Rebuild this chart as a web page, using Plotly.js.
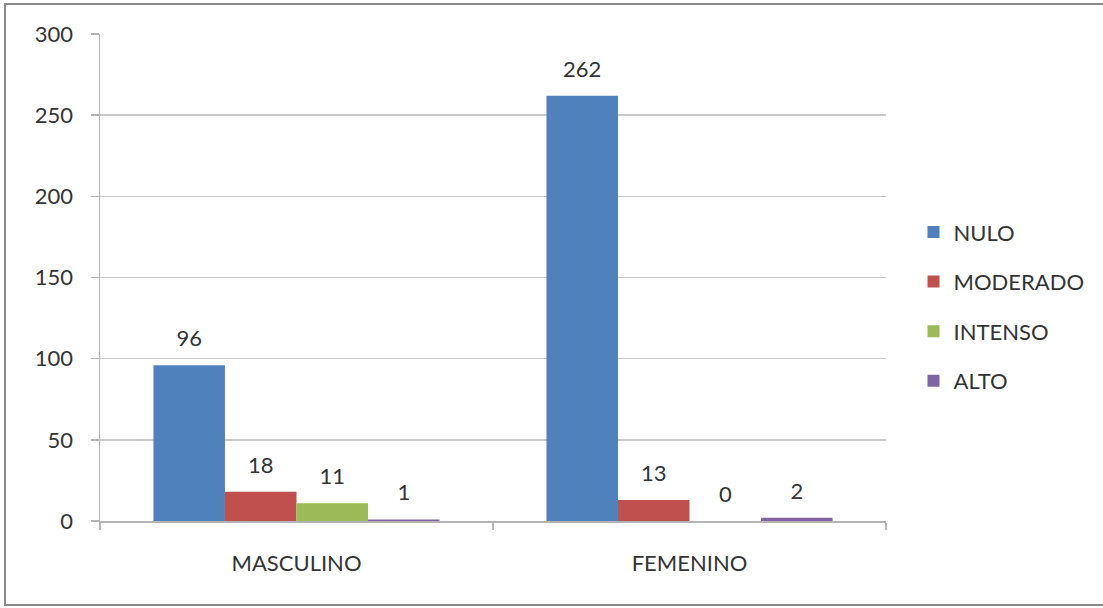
<!DOCTYPE html>
<html>
<head>
<meta charset="utf-8">
<script src="https://cdn.plot.ly/plotly-3.0.1.min.js"></script>
<style>
  html, body { margin: 0; padding: 0; background: #fff; }
  #wrap { position: relative; width: 1103px; height: 608px; overflow: hidden; }
  #frame { position: absolute; left: 4px; top: 3px; width: 1120px; height: 603px; border: 2px solid #8a8a8a; box-sizing: border-box; pointer-events: none; z-index: 5; }
  #chart { position: absolute; left: 0; top: 0; width: 1103px; height: 608px; }
</style>
</head>
<body>
<div id="wrap">
  <div id="chart"></div>
  <div id="frame"></div>
</div>
<script>
const categories = ["MASCULINO", "FEMENINO"];
const seriesNames = ["NULO", "MODERADO", "INTENSO", "ALTO"];
const nulo = [96, 262];
const moderado = [18, 13];
const intenso = [11, 0];
const alto = [1, 2];
const yTicks = [0, 50, 100, 150, 200, 250, 300];

const seriesValues = [nulo, moderado, intenso, alto];
const colors = ["#4f81bd", "#c0504d", "#9bbb59", "#8064a2"];
const fontFam = "Lato, 'Open Sans', sans-serif";
const textColor = "#333333";
const fs = 22;

const traces = [];
seriesValues.forEach((vals, i) => {
  traces.push({
    type: "bar",
    name: seriesNames[i],
    x: categories,
    y: vals,
    marker: { color: colors[i], line: { width: 0 } },
    offsetgroup: "g" + i,
    legendgroup: "g" + i,
    hoverinfo: "x+y+name"
  });
});
seriesValues.forEach((vals, i) => {
  traces.push({
    type: "scatter",
    mode: "markers+text",
    x: categories,
    y: vals,
    text: vals.map(String),
    textposition: "top center",
    textfont: { family: fontFam, size: fs, color: textColor },
    marker: { size: 20, opacity: 0, color: colors[i] },
    offsetgroup: "g" + i,
    showlegend: false,
    hoverinfo: "skip",
    cliponaxis: false
  });
});

const layout = {
  width: 1103,
  height: 608,
  margin: { l: 100, r: 217, t: 34, b: 87 },
  paper_bgcolor: "#ffffff",
  plot_bgcolor: "#ffffff",
  barmode: "group",
  scattermode: "group",
  bargap: 0.272,
  bargroupgap: 0,
  scattergap: 0.272,
  font: { family: fontFam, size: fs, color: textColor },
  xaxis: {
    type: "category",
    showgrid: false,
    showline: true,
    linecolor: "#b4b4b4",
    linewidth: 1.5,
    ticks: "outside",
    tickson: "boundaries",
    ticklen: 7,
    tickcolor: "#b4b4b4",
    tickwidth: 1.5,
    ticklabelstandoff: 22,
    tickfont: { family: fontFam, size: fs, color: textColor },
    fixedrange: true
  },
  yaxis: {
    range: [0, 300],
    tickvals: yTicks,
    ticktext: yTicks.map(String),
    showgrid: true,
    gridcolor: "#c8c8c8",
    gridwidth: 1.5,
    zeroline: false,
    showline: true,
    linecolor: "#b4b4b4",
    linewidth: 1.5,
    ticks: "outside",
    ticklen: 8,
    tickcolor: "#b4b4b4",
    tickwidth: 1.5,
    ticklabelstandoff: 13,
    tickfont: { family: fontFam, size: fs, color: textColor },
    fixedrange: true
  },
  showlegend: true,
  legend: {
    x: 1.035,
    xanchor: "left",
    y: 0.44,
    yanchor: "middle",
    xref: "paper",
    traceorder: "grouped",
    tracegroupgap: 18,
    font: { family: fontFam, size: fs, color: textColor },
    itemwidth: 30,
    bgcolor: "rgba(0,0,0,0)"
  }
};

Plotly.newPlot("chart", traces, layout, { displayModeBar: false, staticPlot: true });
</script>
</body>
</html>
